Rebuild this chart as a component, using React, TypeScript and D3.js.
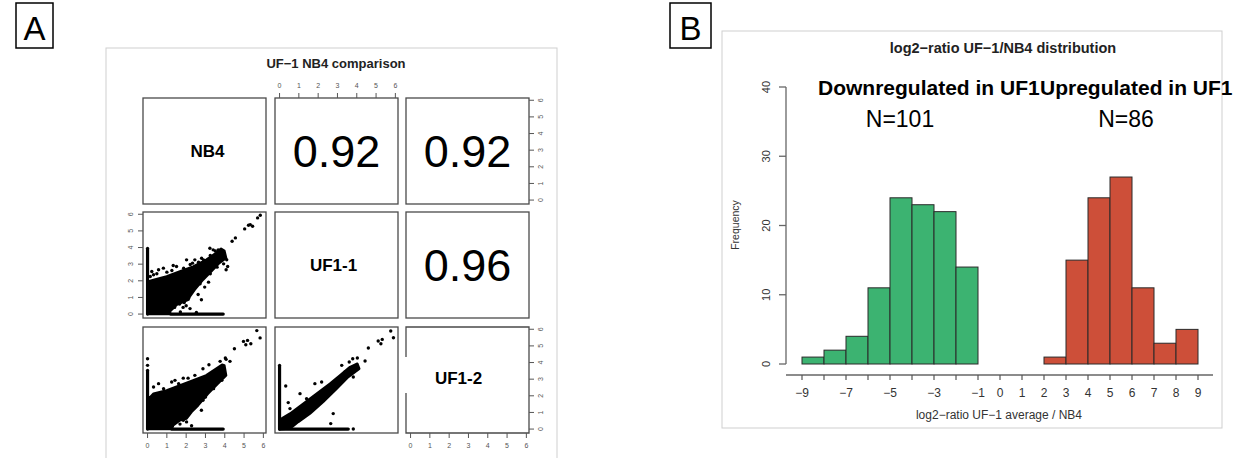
import React from "react";
import * as d3 from "d3";

// ---------- Panel A: scatterplot matrix ----------
const varNames = ["NB4", "UF1-1", "UF1-2"];
const corrNB4_UF11 = 0.92;
const corrNB4_UF12 = 0.92;
const corrUF11_UF12 = 0.96;
const pairTicks = [0, 1, 2, 3, 4, 5, 6];

// NB4 (x) vs UF1-1 (y): dense core outline, point strips on the axes, sparse points
const coreNB4_UF11: [number, number][] = [
  [0, 0], [0, 1.95], [0.31, 2.06], [0.99, 2.26], [1.68, 2.56], [2.36, 2.86], [3.04, 3.26],
  [3.55, 3.67], [3.81, 3.93], [3.98, 3.81], [4.07, 3.37], [3.72, 3.07], [3.3, 2.56],
  [2.87, 2.06], [2.44, 1.46], [2.19, 1.06], [2.12, 0.86], [1.52, 0.56], [1.17, 0.17], [1.17, 0],
];
const stripsNB4_UF11: [number, number, number, number][] = [
  [0, 0, 0, 3.95],
  [1.2, 0, 3.92, 0],
];
const pointsNB4_UF11: [number, number][] = [
  [5.84, 5.94], [5.7, 5.78], [5.32, 5.38], [5.23, 5.34], [5.44, 5.28], [5.03, 5.12],
  [4.55, 4.58], [4.38, 4.38], [0.22, 2.56], [0.57, 2.66], [0.82, 2.76], [0.31, 2.36],
  [0.14, 2.26], [1.33, 2.92], [1.5, 2.86], [2.02, 3.26], [2.45, 3.26], [2.33, 3.06],
  [2.8, 3.36], [3.23, 3.96], [3.4, 3.86], [3.66, 3.86], [3.77, 3.76], [2.96, 1.62],
  [2.79, 0.86], [2.62, 1.18], [4.1, 3.27], [4.15, 2.86], [4.07, 2.66], [1.4, 0.4],
  [1.66, 0.6], [1.84, 0.4], [2.0, 0.5], [1.7, 0.13], [2.2, 0.33], [2.53, 0.1], [1.9, 0.7],
  [1.0, 2.52], [1.26, 2.62], [1.87, 2.76], [2.21, 2.98], [2.64, 3.12], [2.9, 3.26],
  [3.25, 3.52], [3.51, 3.79], [0.48, 2.42], [3.94, 3.02], [3.6, 2.82], [3.25, 2.42],
  [3.16, 1.92], [2.72, 1.82],
];

// NB4 (x) vs UF1-2 (y)
const coreNB4_UF12: [number, number][] = [
  [0, 0], [0, 1.9], [0.14, 1.93], [0.31, 2.13], [0.99, 2.33], [1.68, 2.63], [2.36, 2.93],
  [3.04, 3.23], [3.55, 3.63], [3.86, 3.87], [3.98, 3.83], [4.07, 3.23], [3.64, 2.73],
  [3.13, 2.13], [2.62, 1.43], [2.28, 1.03], [2.02, 0.63], [1.68, 0.53], [1.33, 0.23], [1.25, 0],
];
const stripsNB4_UF12: [number, number, number, number][] = [
  [0, 0, 0, 3.53],
  [1.25, 0, 3.92, 0],
];
const pointsNB4_UF12: [number, number][] = [
  [0, 4.23], [0, 3.83], [0.57, 2.73], [0.31, 2.53], [1.25, 2.83], [1.42, 2.93],
  [1.85, 3.06], [2.1, 3.06], [2.45, 3.23], [2.87, 3.63], [3.18, 3.87], [3.76, 4.07],
  [4.07, 4.19], [4.27, 4.07], [4.03, 4.27], [4.5, 4.83], [4.97, 5.27], [5.18, 5.33],
  [5.35, 5.13], [5.09, 5.07], [5.66, 5.92], [5.83, 5.48], [2.87, 1.73], [2.79, 1.13],
  [1.42, 0.6], [1.85, 0.53], [2.02, 0.43], [1.68, 0.3], [2.28, 0.2],
  [0.83, 2.43], [1.61, 2.73], [2.72, 3.03], [3.42, 3.43], [3.76, 3.63], [3.85, 2.93],
  [3.42, 2.43], [3.0, 1.93],
];

// UF1-1 (x) vs UF1-2 (y)
const coreUF11_UF12: [number, number][] = [
  [0, 0], [0, 0.6], [0.11, 0.63], [0.54, 0.93], [1.23, 1.53], [1.92, 2.13], [2.61, 2.73],
  [3.13, 3.23], [3.65, 3.73], [4.03, 3.93], [4.13, 3.63], [3.56, 3.13], [2.96, 2.43],
  [2.26, 1.63], [1.58, 0.93], [0.97, 0.43], [0.54, 0.03], [0.11, 0],
];
const stripsUF11_UF12: [number, number, number, number][] = [
  [0, 0, 0, 3.83],
  [0, 0, 3.56, 0],
];
const pointsUF11_UF12: [number, number][] = [
  [5.76, 5.9], [5.9, 5.49], [5.11, 5.29], [5.32, 5.39], [5.25, 5.13], [4.6, 4.87],
  [4.43, 4.09], [4.03, 4.27], [3.79, 4.23], [3.61, 4.03], [3.22, 3.83], [2.78, 0.93],
  [2.65, 0.33], [0.32, 2.59], [0.45, 1.59], [1.06, 2.13], [1.83, 2.73], [2.18, 2.83],
  [3.82, 0], [0.54, 1.23], [1.4, 1.83], [2.44, 2.43], [3.39, 3.43], [3.82, 3.13], [3.13, 2.73],
];

// ---------- Panel B: histogram of log2 ratios ----------
const binStart = [-9, -8, -7, -6, -5, -4, -3, -2, -1, 0, 1, 2, 3, 4, 5, 6, 7, 8];
const binCount = [1, 2, 4, 11, 24, 23, 22, 14, 0, 0, 0, 1, 15, 24, 27, 11, 3, 5];
const histXTicks = [-9, -8, -7, -6, -5, -4, -3, -2, -1, 0, 1, 2, 3, 4, 5, 6, 7, 8, 9];
const histXLabels = ["−9", "", "−7", "", "−5", "", "−3", "", "−1", "0", "1", "2", "3", "4", "5", "6", "7", "8", "9"];
const histYTicks = [0, 10, 20, 30, 40];
const downColor = "#3CB371";
const upColor = "#CD4F39";

const FONT = "'Liberation Sans', Arial, Helvetica, sans-serif";

// layout of the 3x3 matrix
const colLeft = [143, 275, 406];
const rowTop = [98, 212, 327];
const PW = 123;
const PH = 106;
const pairDomain: [number, number] = [-0.236, 6.136];

function panelScales(r: number, c: number) {
  const x = d3.scaleLinear().domain(pairDomain).range([colLeft[c], colLeft[c] + PW]);
  const y = d3.scaleLinear().domain(pairDomain).range([rowTop[r] + PH, rowTop[r]]);
  return { x, y };
}

function Scatter({ r, c, core, strips, points }: {
  r: number; c: number; core: [number, number][];
  strips: [number, number, number, number][]; points: [number, number][];
}) {
  const { x, y } = panelScales(r, c);
  const area = d3.line<[number, number]>().x((d) => x(d[0])).y((d) => y(d[1])).curve(d3.curveLinearClosed);
  return (
    <g>
      <path d={area(core) || ""} fill="#000" stroke="#000" strokeWidth={2.4} strokeLinejoin="round" />
      {strips.map((s, i) => (
        <line key={"s" + i} x1={x(s[0])} y1={y(s[1])} x2={x(s[2])} y2={y(s[3])}
          stroke="#000" strokeWidth={3.2} strokeLinecap="round" />
      ))}
      {points.map((p, i) => (
        <circle key={"p" + i} cx={x(p[0])} cy={y(p[1])} r={1.7} fill="#000" />
      ))}
    </g>
  );
}

function PanelBox({ r, c, gap }: { r: number; c: number; gap?: [number, number] }) {
  const x0 = colLeft[c], y0 = rowTop[r];
  const stroke = "#4a4a4a";
  if (!gap) {
    return <rect x={x0} y={y0} width={PW} height={PH} fill="none" stroke={stroke} strokeWidth={1.3} />;
  }
  return (
    <g fill="none" stroke={stroke} strokeWidth={1.3}>
      <path d={`M${x0},${y0 + gap[0]} L${x0},${y0} L${x0 + PW},${y0} L${x0 + PW},${y0 + PH} L${x0},${y0 + PH} L${x0},${y0 + gap[1]}`} />
    </g>
  );
}

function AxisTop({ c }: { c: number }) {
  const { x } = panelScales(0, c);
  const y0 = rowTop[0];
  return (
    <g>
      {pairTicks.map((t) => (
        <g key={t}>
          <line x1={x(t)} x2={x(t)} y1={y0} y2={y0 - 5} stroke="#555" strokeWidth={1} />
          <text x={x(t)} y={y0 - 10} fontSize={7} fill="#555" textAnchor="middle">{t}</text>
        </g>
      ))}
    </g>
  );
}

function AxisBottom({ c }: { c: number }) {
  const { x } = panelScales(2, c);
  const y0 = rowTop[2] + PH;
  return (
    <g>
      {pairTicks.map((t) => (
        <g key={t}>
          <line x1={x(t)} x2={x(t)} y1={y0} y2={y0 + 5} stroke="#555" strokeWidth={1} />
          <text x={x(t)} y={y0 + 15} fontSize={7} fill="#555" textAnchor="middle">{t}</text>
        </g>
      ))}
    </g>
  );
}

function AxisSide({ r, c, side }: { r: number; c: number; side: "left" | "right" }) {
  const { y } = panelScales(r, c);
  const x0 = side === "left" ? colLeft[c] : colLeft[c] + PW;
  const dir = side === "left" ? -1 : 1;
  return (
    <g>
      {pairTicks.map((t) => (
        <g key={t}>
          <line x1={x0} x2={x0 + dir * 5} y1={y(t)} y2={y(t)} stroke="#555" strokeWidth={1} />
          <text transform={`translate(${x0 + dir * 12},${y(t)}) rotate(-90)`} fontSize={7} fill="#555"
            textAnchor="middle" dy="0.35em">{t}</text>
        </g>
      ))}
    </g>
  );
}

function PairsPanel() {
  const fmt = d3.format(".2f");
  const cx = (c: number) => colLeft[c] + PW / 2;
  const cy = (r: number) => rowTop[r] + PH / 2;
  return (
    <g fontFamily={FONT}>
      <rect x={106} y={48} width={451} height={420} fill="#fff" stroke="#cfcfcf" strokeWidth={1} />
      <text x={336} y={68} fontSize={13} fontWeight="bold" textAnchor="middle" fill="#222">UF−1 NB4 comparison</text>

      <Scatter r={1} c={0} core={coreNB4_UF11} strips={stripsNB4_UF11} points={pointsNB4_UF11} />
      <Scatter r={2} c={0} core={coreNB4_UF12} strips={stripsNB4_UF12} points={pointsNB4_UF12} />
      <Scatter r={2} c={1} core={coreUF11_UF12} strips={stripsUF11_UF12} points={pointsUF11_UF12} />

      {[0, 1, 2].map((r) => [0, 1, 2].map((c) => (
        <PanelBox key={r + "-" + c} r={r} c={c} gap={r === 2 && c === 2 ? [30, 66] : undefined} />
      )))}

      <text x={cx(0) + 3} y={cy(0) + 6} fontSize={17} fontWeight="bold" textAnchor="middle" fill="#000">{varNames[0]}</text>
      <text x={cx(1) - 3} y={cy(1) + 6} fontSize={17} fontWeight="bold" textAnchor="middle" fill="#000">{varNames[1]}</text>
      <text x={cx(2) - 9} y={cy(2) + 4} fontSize={17} fontWeight="bold" textAnchor="middle" fill="#000">{varNames[2]}</text>

      <text x={cx(1)} y={cy(0) + 16} fontSize={45} textAnchor="middle" fill="#000">{fmt(corrNB4_UF11)}</text>
      <text x={cx(2)} y={cy(0) + 16} fontSize={45} textAnchor="middle" fill="#000">{fmt(corrNB4_UF12)}</text>
      <text x={cx(2)} y={cy(1) + 16} fontSize={45} textAnchor="middle" fill="#000">{fmt(corrUF11_UF12)}</text>

      <AxisTop c={1} />
      <AxisBottom c={0} />
      <AxisBottom c={2} />
      <AxisSide r={0} c={2} side="right" />
      <AxisSide r={1} c={0} side="left" />
      <AxisSide r={2} c={2} side="right" />
    </g>
  );
}

function HistogramPanel() {
  const x = d3.scaleLinear().domain([-9, 9]).range([802, 1198]);
  const y = d3.scaleLinear().domain([0, 40]).range([364, 87]);
  const axisY = 375;
  const axisX = 786;
  return (
    <g fontFamily={FONT}>
      <rect x={722} y={31} width={500} height={397} fill="#fff" stroke="#cfcfcf" strokeWidth={1} />
      <text x={1003} y={53} fontSize={14.5} fontWeight="bold" textAnchor="middle" fill="#222">log2−ratio UF−1/NB4 distribution</text>

      {binStart.map((b, i) => (
        <rect key={b} x={x(b)} y={y(binCount[i])} width={x(b + 1) - x(b)} height={y(0) - y(binCount[i])}
          fill={b < 0 ? downColor : upColor} stroke={binCount[i] === 0 ? "#777" : "#2a2a2a"} strokeWidth={1} />
      ))}

      {/* y axis */}
      <line x1={axisX} x2={axisX} y1={y(0)} y2={y(40)} stroke="#666" strokeWidth={1.3} />
      {histYTicks.map((t) => (
        <g key={t}>
          <line x1={axisX} x2={axisX - 7} y1={y(t)} y2={y(t)} stroke="#666" strokeWidth={1.3} />
          <text transform={`translate(${axisX - 20},${y(t)}) rotate(-90)`} fontSize={11} fill="#333"
            textAnchor="middle" dy="0.35em">{t}</text>
        </g>
      ))}
      <text transform={`translate(735,225) rotate(-90)`} fontSize={10.5} fill="#333" textAnchor="middle" dy="0.35em">Frequency</text>

      {/* x axis */}
      <line x1={axisX} x2={1213} y1={axisY} y2={axisY} stroke="#666" strokeWidth={1.3} />
      {histXTicks.map((t, i) => (
        <g key={t}>
          <line x1={x(t)} x2={x(t)} y1={axisY} y2={axisY + 5} stroke="#555" strokeWidth={1.2} />
          <text x={x(t)} y={axisY + 22} fontSize={12} fill="#333" textAnchor="middle">{histXLabels[i]}</text>
        </g>
      ))}
      <text x={999} y={419} fontSize={12} fill="#333" textAnchor="middle">log2−ratio UF−1 average / NB4</text>

      <text x={818} y={95} fontSize={21} fontWeight="bold" fill="#000">Downregulated in UF1</text>
      <text x={1040} y={95} fontSize={21} fontWeight="bold" fill="#000">Upregulated in UF1</text>
      <text x={900} y={127} fontSize={23} textAnchor="middle" fill="#000">N={d3.sum(binCount.slice(0, 8))}</text>
      <text x={1126} y={127} fontSize={23} textAnchor="middle" fill="#000">N={d3.sum(binCount.slice(8))}</text>
    </g>
  );
}

export default function App() {
  return (
    <div style={{ position: "absolute", left: 0, top: 0 }}>
      <svg width={1251} height={458} style={{ display: "block", background: "#fff" }}>
        <rect x={0} y={0} width={1251} height={458} fill="#fff" />
        <PairsPanel />
        <HistogramPanel />
        <g fontFamily={FONT}>
          <rect x={16} y={3} width={37} height={45} fill="#fff" stroke="#000" strokeWidth={1.5} />
          <text x={34.5} y={40} fontSize={33} textAnchor="middle" fill="#000">A</text>
          <rect x={670} y={3} width={41} height={45} fill="#fff" stroke="#000" strokeWidth={1.5} />
          <text x={690.5} y={40} fontSize={33} textAnchor="middle" fill="#000">B</text>
        </g>
      </svg>
    </div>
  );
}
